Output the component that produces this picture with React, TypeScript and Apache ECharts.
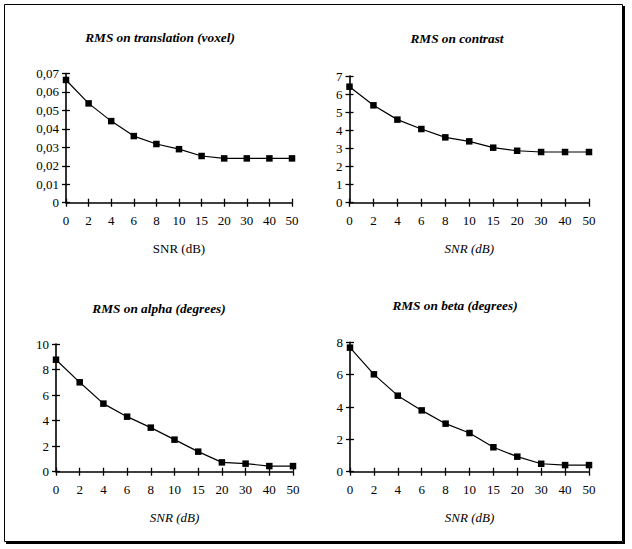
import React, { useEffect, useRef } from "react";
import * as echarts from "echarts";

const snrLabels = ["0", "2", "4", "6", "8", "10", "15", "20", "30", "40", "50"];
const translationRms = [0.0665, 0.0538, 0.0442, 0.0361, 0.0318, 0.029, 0.0253, 0.024, 0.024, 0.024, 0.024];
const contrastRms = [6.41, 5.38, 4.59, 4.07, 3.61, 3.39, 3.04, 2.87, 2.8, 2.8, 2.8];
const alphaRms = [8.77, 7.0, 5.33, 4.31, 3.45, 2.51, 1.57, 0.73, 0.63, 0.44, 0.44];
const betaRms = [7.67, 6.02, 4.7, 3.79, 2.97, 2.39, 1.51, 0.93, 0.49, 0.41, 0.41];

const titles = ["RMS on translation (voxel)", "RMS on contrast", "RMS on alpha (degrees)", "RMS on beta (degrees)"];
const xNames = ["SNR (dB)", "SNR (dB)", "SNR (dB)", "SNR (dB)"];
const yMax = [0.07, 7, 10, 8];
const yInterval = [0.01, 1, 2, 2];

const FONT = "'Liberation Serif', 'Times New Roman', Times, serif";

export default function App() {
  const ref = useRef<HTMLDivElement>(null);
  useEffect(() => {
    if (!ref.current) return;
    const chart = echarts.init(ref.current, null, { renderer: "svg" });
    const grids = [
      { left: 66, top: 73.5, width: 226, height: 129.2 },
      { left: 349.5, top: 76, width: 239.5, height: 126.7 },
      { left: 56, top: 344, width: 237, height: 127.7 },
      { left: 350, top: 342.3, width: 239, height: 129.4 },
    ];
    const titleCenters = [
      [160, 30.5],
      [457, 31.5],
      [159, 301.5],
      [455, 298.5],
    ];
    const datas = [translationRms, contrastRms, alphaRms, betaRms];
    const xAxes: any[] = [];
    const yAxes: any[] = [];
    const series: any[] = [];
    const axisLine = { show: true, lineStyle: { color: "#000", width: 1.6 } };
    const lbl = { color: "#000", fontFamily: FONT, fontSize: 13 };
    for (let i = 0; i < 4; i++) {
      xAxes.push({
        type: "category",
        gridIndex: i,
        position: "bottom",
        data: snrLabels,
        boundaryGap: false,
        axisLine,
        axisTick: { show: true, inside: false, length: 4, lineStyle: { color: "#000", width: 1.3 } },
        axisLabel: { ...lbl, margin: 11, interval: 0 },
        splitLine: { show: false },
        name: xNames[i],
        nameLocation: "middle",
        nameGap: 39,
        nameTextStyle: { color: "#000", fontFamily: FONT, fontSize: 13, fontStyle: i === 0 ? "normal" : "italic" },
      });
      xAxes.push({
        type: "category",
        gridIndex: i,
        position: "bottom",
        data: snrLabels,
        boundaryGap: false,
        axisLine: { show: false },
        axisTick: { show: true, inside: true, length: 4, lineStyle: { color: "#000", width: 1.3 } },
        axisLabel: { show: false },
        splitLine: { show: false },
      });
      const fmt = (v: number) => (i === 0 ? (v === 0 ? "0" : v.toFixed(2).replace(".", ",")) : String(v));
      yAxes.push({
        type: "value",
        gridIndex: i,
        position: "left",
        min: 0,
        max: yMax[i],
        interval: yInterval[i],
        axisLine,
        axisTick: { show: true, inside: false, length: 4, lineStyle: { color: "#000", width: 1.3 } },
        axisLabel: { ...lbl, margin: 7, formatter: fmt },
        splitLine: { show: false },
      });
      yAxes.push({
        type: "value",
        gridIndex: i,
        position: "left",
        min: 0,
        max: yMax[i],
        interval: yInterval[i],
        axisLine: { show: false },
        axisTick: { show: true, inside: true, length: 4, lineStyle: { color: "#000", width: 1.3 } },
        axisLabel: { show: false },
        splitLine: { show: false },
      });
      series.push({
        type: "line",
        xAxisIndex: i * 2,
        yAxisIndex: i * 2,
        data: datas[i],
        symbol: "rect",
        symbolSize: 6.5,
        showSymbol: true,
        itemStyle: { color: "#000" },
        lineStyle: { color: "#000", width: 1.2 },
        z: 5,
      });
    }
    chart.setOption({
      animation: false,
      backgroundColor: "#fff",
      textStyle: { fontFamily: FONT },
      title: titles.map((t, i) => ({
        text: t,
        left: titleCenters[i][0],
        top: titleCenters[i][1],
        padding: 0,
        textAlign: "center",
        textStyle: { fontFamily: FONT, fontSize: 13.3, fontWeight: "bold", fontStyle: "italic", color: "#000" },
      })),
      grid: grids,
      xAxis: xAxes,
      yAxis: yAxes,
      series,
      graphic: [
        { type: "rect", shape: { x: 4.5, y: 4.5, width: 618, height: 537 }, style: { fill: "none", stroke: "#000", lineWidth: 1 } },
        { type: "line", shape: { x1: 624, y1: 6, x2: 624, y2: 543.5 }, style: { stroke: "#000", lineWidth: 2 } },
        { type: "line", shape: { x1: 6, y1: 543, x2: 625, y2: 543 }, style: { stroke: "#000", lineWidth: 2 } },
      ],
    });
    return () => chart.dispose();
  }, []);
  return <div ref={ref} style={{ position: "fixed", left: 0, top: 0, width: 632, height: 549 }} />;
}
